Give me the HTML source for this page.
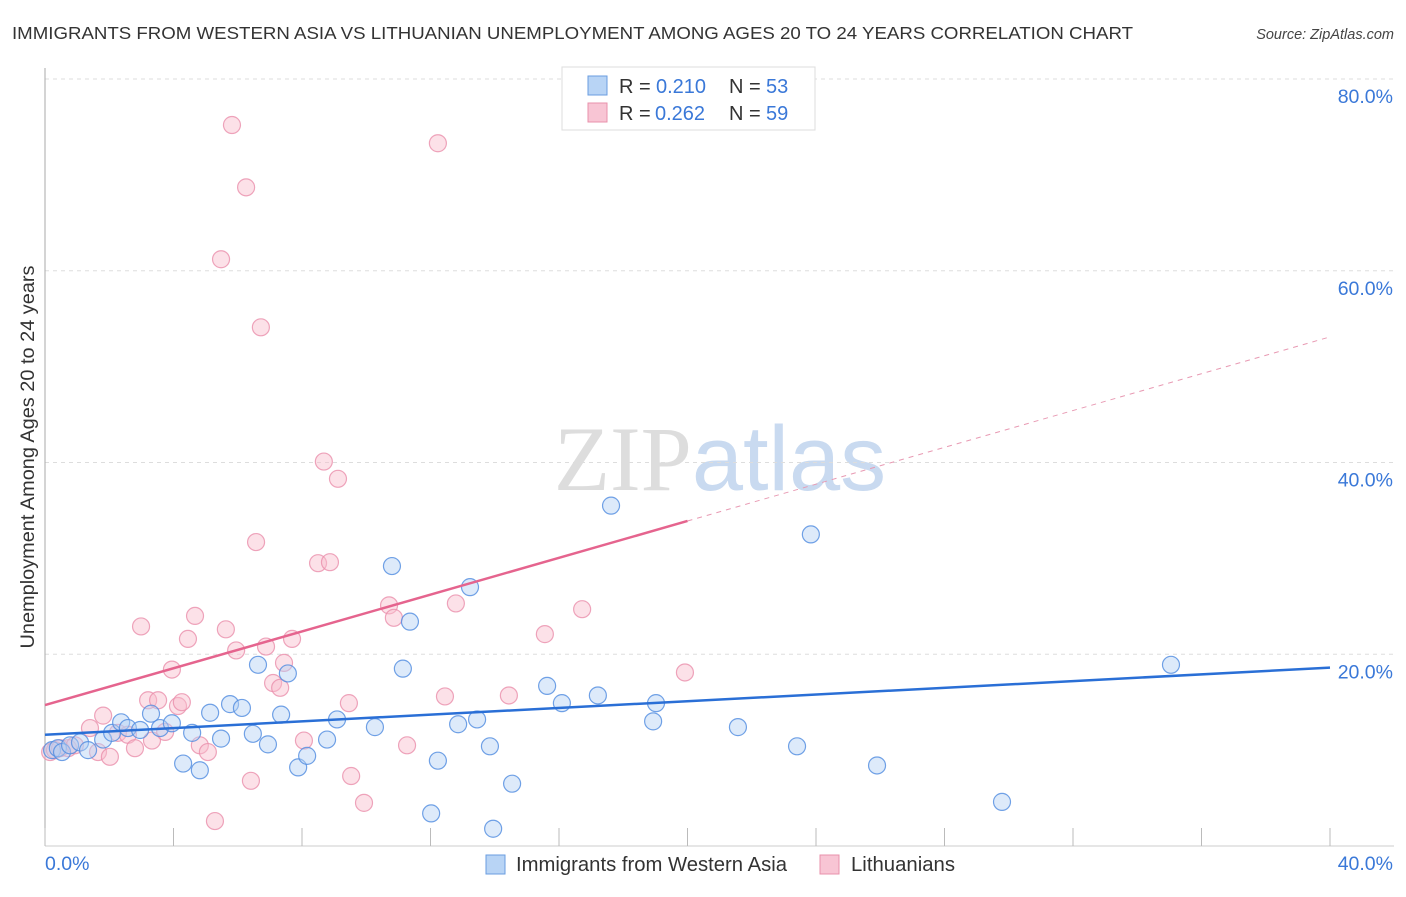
<!DOCTYPE html>
<html><head><meta charset="utf-8"><style>
body{margin:0;background:#fff;font-family:"Liberation Sans",sans-serif;}
svg text{font-family:"Liberation Sans",sans-serif;}
</style></head><body>
<svg id="chart" width="1406" height="892" xmlns="http://www.w3.org/2000/svg">
<text x="12" y="39" font-size="17.5" textLength="1121" lengthAdjust="spacingAndGlyphs" fill="#333">IMMIGRANTS FROM WESTERN ASIA VS LITHUANIAN UNEMPLOYMENT AMONG AGES 20 TO 24 YEARS CORRELATION CHART</text>
<text x="1394" y="39" font-size="14.5" fill="#444" text-anchor="end" font-style="italic">Source: ZipAtlas.com</text>
<text x="720" y="490" font-size="92" text-anchor="middle"><tspan fill="#ddd" font-family="Liberation Serif">ZIP</tspan><tspan fill="#c9daf0">atlas</tspan></text>
<text transform="translate(34,457) rotate(-90)" font-size="19" textLength="383" lengthAdjust="spacingAndGlyphs" fill="#333" text-anchor="middle">Unemployment Among Ages 20 to 24 years</text>
<g id="grid"></g><g id="pts"></g><g id="lines"></g>
<g>
<rect x="562" y="67" width="253" height="63" fill="#fff" stroke="#ddd"/>
<rect x="588" y="76" width="19" height="19" fill="#b8d4f5" stroke="#6a9de0"/>
<rect x="588" y="103" width="19" height="19" fill="#f8c5d4" stroke="#e891ab"/>
<text x="619" y="93" font-size="20" fill="#333">R =</text>
<text x="656" y="93" font-size="20" fill="#3a78d8">0.210</text>
<text x="729" y="93" font-size="20" fill="#333">N =</text>
<text x="766" y="93" font-size="20" fill="#3a78d8">53</text>
<text x="619" y="120" font-size="20" fill="#333">R =</text>
<text x="655" y="120" font-size="20" fill="#3a78d8">0.262</text>
<text x="729" y="120" font-size="20" fill="#333">N =</text>
<text x="766" y="120" font-size="20" fill="#3a78d8">59</text>
</g>
<g>
<rect x="486" y="855" width="19" height="19" fill="#b8d4f5" stroke="#6a9de0"/>
<text x="516" y="871" font-size="20" textLength="271" lengthAdjust="spacingAndGlyphs" fill="#333">Immigrants from Western Asia</text>
<rect x="820" y="855" width="19" height="19" fill="#f8c5d4" stroke="#e891ab"/>
<text x="851" y="871" font-size="20" textLength="104" lengthAdjust="spacingAndGlyphs" fill="#333">Lithuanians</text>
</g>
</svg>
<script>
const blueX=[0.22,0.40,0.53,0.78,1.09,1.34,1.81,2.09,2.37,2.58,2.96,3.30,3.58,3.95,4.30,4.58,4.82,5.14,5.48,5.76,6.13,6.47,6.63,6.94,7.35,7.56,7.88,8.16,8.78,9.09,10.27,10.80,11.14,11.36,12.02,12.23,12.86,13.23,13.45,13.85,13.95,14.54,15.63,16.09,17.21,17.62,18.93,19.02,21.57,23.41,23.84,25.90,29.79,35.05];
const blueY=[10.0,10.2,9.8,10.5,10.8,10.0,11.1,11.8,12.9,12.3,12.1,13.8,12.3,12.8,8.6,11.8,7.9,13.9,11.2,14.8,14.4,11.7,18.9,10.6,13.7,18.0,8.2,9.4,11.1,13.2,12.4,29.2,18.5,23.4,3.4,8.9,12.7,27.0,13.2,10.4,1.8,6.5,16.7,14.9,15.7,35.5,13.0,14.9,12.4,10.4,32.5,8.4,4.6,18.9];
const pinkX=[0.16,0.31,0.47,0.72,0.93,1.40,1.65,1.81,2.02,2.27,2.58,2.80,2.99,3.21,3.33,3.52,3.74,3.95,4.14,4.26,4.45,4.67,4.82,5.07,5.29,5.48,5.63,5.82,5.95,6.26,6.41,6.57,6.72,6.88,7.10,7.32,7.44,7.69,8.06,8.50,8.68,8.87,9.12,9.46,9.53,9.93,10.71,10.86,11.27,12.23,12.45,12.79,14.44,15.56,16.72,19.92];
const pinkY=[9.8,10.0,10.2,10.2,10.5,12.3,9.8,13.6,9.3,11.8,11.6,10.2,22.9,15.2,11.0,15.2,11.9,18.4,14.6,15.0,21.6,24.0,10.5,9.8,2.6,61.2,22.6,75.2,20.4,68.7,6.8,31.7,54.1,20.8,17.0,16.5,19.1,21.6,11.0,29.5,40.1,29.6,38.3,14.9,7.3,4.5,25.1,23.8,10.5,73.3,15.6,25.3,15.7,22.1,24.7,18.1];
const blueTrend=[11.6,18.6];
const pinkTrend=[14.7,33.9,53.1];
const yTicks=[20,40,60,80];
const xTicks=[0,4,8,12,16,20,24,28,32,36,40];
const X=v=>45+v*32.125, Y=v=>846-v*9.5875;
const NS='http://www.w3.org/2000/svg';
function mk(tag,at,parent){const e=document.createElementNS(NS,tag);for(const k in at)e.setAttribute(k,at[k]);document.getElementById(parent).appendChild(e);return e;}
yTicks.forEach(t=>{
 const l=mk('line',{x1:45,x2:1394,y1:Y(t),y2:Y(t),stroke:'#ddd','stroke-dasharray':'4,4'},'grid');
 
 
 const tx=mk('text',{x:1393,y:Y(t)+24,'font-size':19.5,fill:'#3a78d8','text-anchor':'end'},'grid');
 tx.textContent=t.toFixed(1)+'%';
 
 
});
const ax=mk('line',{x1:45,x2:45,y1:68,y2:846,stroke:'#aaa'},'grid');


const bx=mk('line',{x1:45,x2:1394,y1:846,y2:846,stroke:'#ccc'},'grid');


xTicks.forEach(t=>{
 const l=mk('line',{x1:X(t),x2:X(t),y1:828,y2:846,stroke:'#bbb'},'grid');
 
 
});
[[0,45,'start'],[40,1393,'end']].forEach(([t,x,a])=>{
 const tx=mk('text',{x:x,y:870,'font-size':19.5,fill:'#3a78d8','text-anchor':a},'grid');
 tx.textContent=t.toFixed(1)+'%';
 
 
});
function dots(xs,ys,fill,stroke,name){xs.forEach((v,i)=>{
 const c=mk('circle',{cx:X(v),cy:Y(ys[i]),r:8.5,fill:fill,'fill-opacity':0.45,stroke:stroke,'stroke-width':1.2,'stroke-opacity':0.8},'pts');
 
 
});}
dots(pinkX,pinkY,'#f8bccd','#ea8fab','lithuanians-point');
dots(blueX,blueY,'#b3d0f3','#4f8be0','western-asia-point');
const bl=mk('line',{x1:X(0),y1:Y(blueTrend[0]),x2:X(40),y2:Y(blueTrend[1]),stroke:'#2a6fd6','stroke-width':2.5},'lines');


const pl=mk('line',{x1:X(0),y1:Y(pinkTrend[0]),x2:X(20),y2:Y(pinkTrend[1]),stroke:'#e5648e','stroke-width':2.5},'lines');


const pd=mk('line',{x1:X(20),y1:Y(pinkTrend[1]),x2:X(40),y2:Y(pinkTrend[2]),stroke:'#e89ab3','stroke-width':1,'stroke-dasharray':'5,5'},'lines');


</script>
</body></html>
